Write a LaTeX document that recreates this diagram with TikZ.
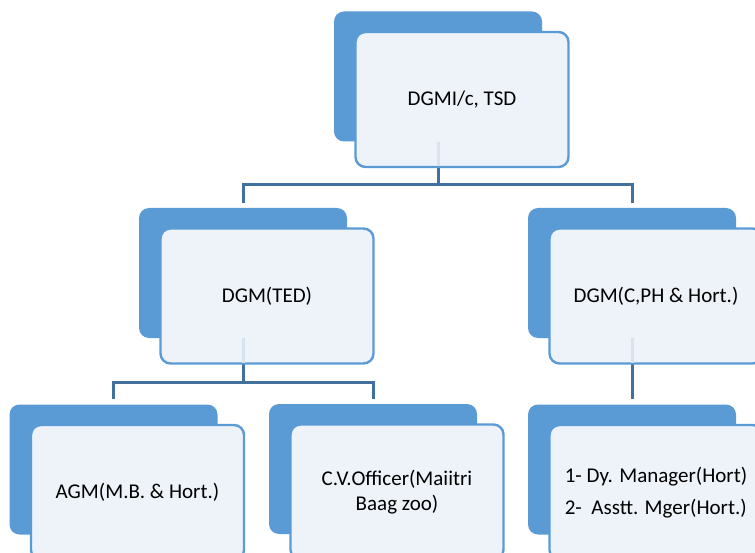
\documentclass[tikz,border=0pt]{standalone}
\usepackage{fontspec}
\setmainfont{Carlito}
\usepackage{xcolor}
\usetikzlibrary{positioning}
\definecolor{smartblue}{HTML}{5B9BD5}
\definecolor{smartpale}{HTML}{EEF3FA}
\definecolor{linkblue}{HTML}{41719C}

\begin{document}
\begin{tikzpicture}[x=1pt, y=-1pt,
    back/.style={rectangle, rounded corners=10pt, fill=smartblue, minimum width=208pt, minimum height=130pt, inner sep=0pt},
    front/.style={rectangle, rounded corners=10pt, draw=smartblue, line width=2.4pt, fill=smartpale, minimum width=213pt, minimum height=135pt, inner sep=0pt, align=center, font=\fontsize{21}{25}\selectfont},
    link/.style={draw=linkblue, line width=3pt},
    faint/.style={draw=linkblue!12!smartpale, line width=3pt}]
	  \clip (0,0) rectangle (755,553);
	  \useasboundingbox (0,0) rectangle (755,553);
	  % connectors first, boxes on top
	  \coordinate (j1) at (438,185);
	  \coordinate (j2) at (243,382);
	  \foreach \n/\x/\y in {top/438/76.5, ted/243/273, cph/632/273, agm/113.5/469.5, cvo/373/469, dym/632/469.5}
	    \node[back] (\n) at (\x,\y) {};
	  \draw[link, shorten >=5pt] (top.south) -- (top.south |- j1) -| (ted.north);
	  \draw[link, shorten >=5pt] (top.south |- j1) -| (cph.north);
	  \draw[link, shorten >=5pt] (ted.south) -- (ted.south |- j2) -| (agm.north);
	  \draw[link, shorten >=5pt] (ted.south |- j2) -| (cvo.north);
	  \draw[link, shorten >=5pt] (cph.south) -- (dym.north);
	  \node[front] (topF) at ([shift={(24,23)}]top.center) {DGMI/c, TSD};
	  \node[front] (tedF) at ([shift={(24,23)}]ted.center) {DGM(TED)};
	  \node[front] (cphF) at ([shift={(24,23)}]cph.center) {DGM(C,PH \& Hort.)};
	  \node[front] (agmF) at ([shift={(24,23)}]agm.center) {AGM(M.B. \& Hort.)};
	  \node[front] (cvoF) at ([shift={(24,23)}]cvo.center) {C.V.Officer(Maiitri\\Baag zoo)};
	  \node[front, align=left] (dymF) at ([shift={(24,23)}]dym.center) {1- Dy. Manager(Hort)\\[7pt]2-~ Asstt. Mger(Hort.)};
	  % connector seen through the pale boxes
	  \draw[faint, shorten >=2pt] (top.south) -- (top.south |- topF.south);
	  \draw[faint, shorten >=2pt] (ted.south) -- (ted.south |- tedF.south);
	  \draw[faint, shorten >=2pt] (cph.south) -- (cph.south |- cphF.south);
	\end{tikzpicture}
\end{document}
